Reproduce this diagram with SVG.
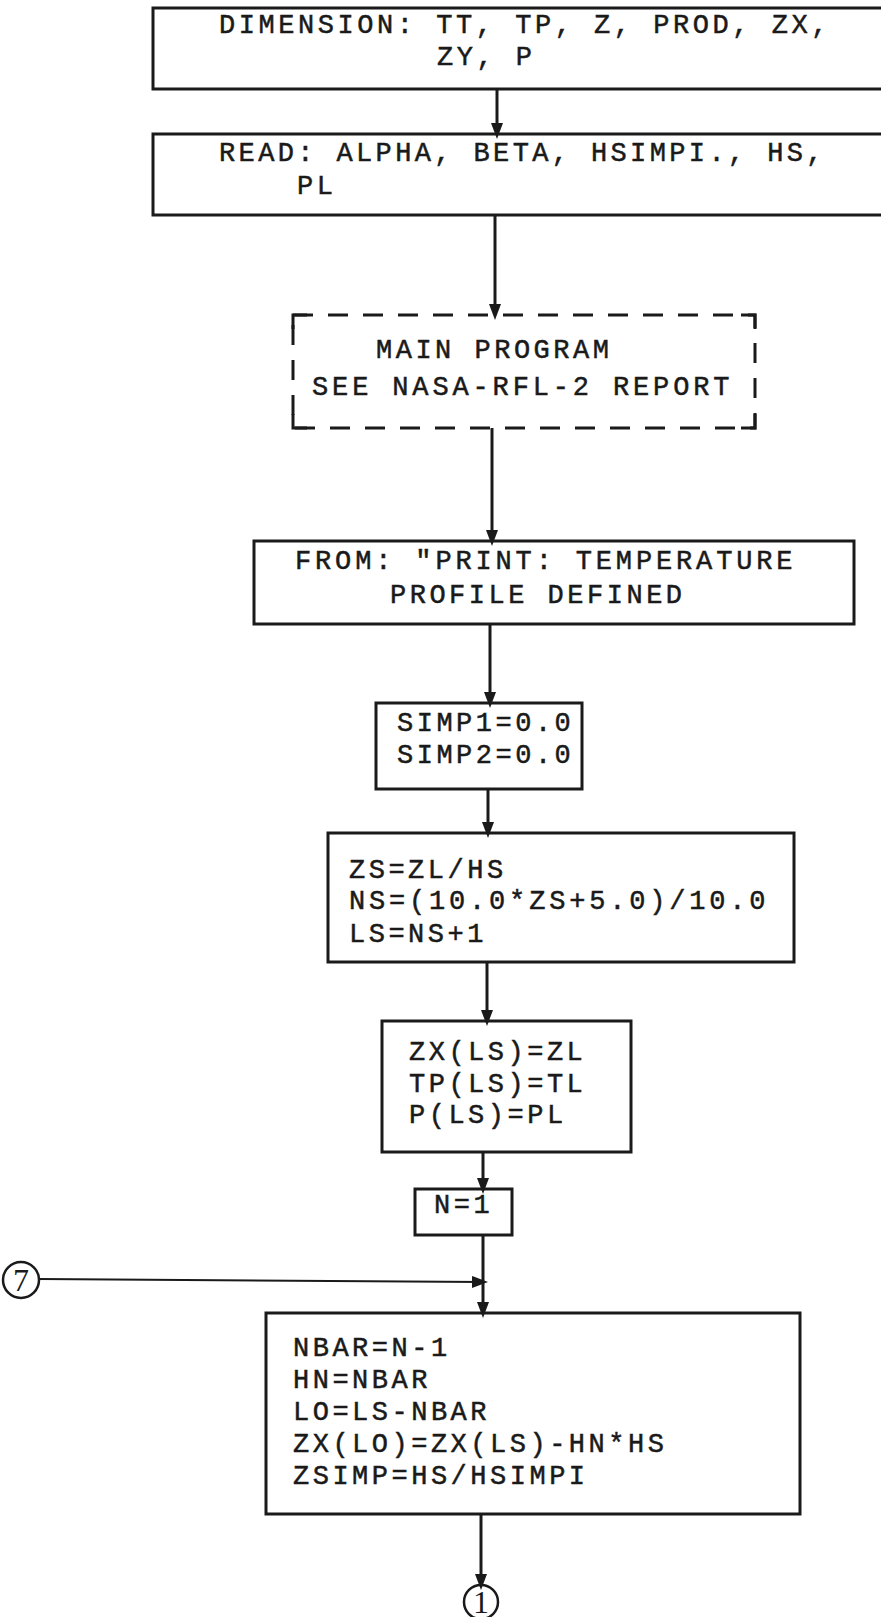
<svg xmlns="http://www.w3.org/2000/svg" width="881" height="1617" viewBox="0 0 881 1617">
<style>
.bg{fill:#fff}
.box{fill:none;stroke:#1a1a1a;stroke-width:3}
.dash{fill:none;stroke:#1a1a1a;stroke-width:3;stroke-dasharray:20 15}
.t{font-family:"Liberation Mono","DejaVu Sans Mono",monospace;font-size:27px;fill:#1a1a1a;stroke:#1a1a1a;stroke-width:0.5;letter-spacing:3.5px}
.c{font-family:"Liberation Serif",serif;font-size:32px;fill:#1a1a1a;text-anchor:middle}
.ln{stroke:#1a1a1a;stroke-width:3;fill:none}
.thin{stroke:#1a1a1a;stroke-width:2;fill:none}
.circ{stroke:#1a1a1a;stroke-width:2.5;fill:none}
</style>
<defs>
<marker id="ahd" markerWidth="16" markerHeight="12" refX="10" refY="6" orient="auto" markerUnits="userSpaceOnUse" viewBox="0 0 16 12">
<path d="M0,0 L16,6 L0,12 Z" fill="#1a1a1a"/>
</marker>
</defs>
<rect class="bg" x="0" y="0" width="881" height="1617"/>
<g id="connectors">
<line class="ln" x1="497" y1="89" x2="497" y2="133" marker-end="url(#ahd)"/>
<line class="ln" x1="495" y1="215" x2="495" y2="314" marker-end="url(#ahd)"/>
<line class="ln" x1="492" y1="428" x2="492" y2="540" marker-end="url(#ahd)"/>
<line class="ln" x1="490" y1="624" x2="490" y2="702" marker-end="url(#ahd)"/>
<line class="ln" x1="488" y1="789" x2="488" y2="832" marker-end="url(#ahd)"/>
<line class="ln" x1="487" y1="962" x2="487" y2="1020" marker-end="url(#ahd)"/>
<line class="ln" x1="483" y1="1152" x2="483" y2="1188" marker-end="url(#ahd)"/>
<line class="ln" x1="483" y1="1235" x2="483" y2="1312" marker-end="url(#ahd)"/>
<line class="thin" x1="39" y1="1279" x2="482" y2="1282" marker-end="url(#ahd)"/>
<line class="ln" x1="481" y1="1514" x2="481" y2="1584" marker-end="url(#ahd)"/>
</g>
<g id="n1">
<rect class="box" x="153" y="8" width="760" height="81"/>
<text class="t" x="219" y="33" textLength="612">DIMENSION: TT, TP, Z, PROD, ZX,</text>
<text class="t" x="437" y="65">ZY, P</text>
</g>
<g id="n2">
<rect class="box" x="153" y="134" width="760" height="81"/>
<text class="t" x="219" y="161" textLength="607">READ: ALPHA, BETA, HSIMPI., HS,</text>
<text class="t" x="297" y="194">PL</text>
</g>
<g id="n3">
<rect class="dash" x="293" y="315" width="462" height="113"/>
<path class="box" d="M293,329 V315 H307 M741,315 H755 V329 M293,414 V428 H307 M741,428 H755 V414"/>
<text class="t" x="376" y="358">MAIN PROGRAM</text>
<text class="t" x="312" y="395" textLength="421">SEE NASA-RFL-2 REPORT</text>
</g>
<g id="n4">
<rect class="box" x="254" y="541" width="600" height="83"/>
<text class="t" x="295" y="569" textLength="501">FROM: "PRINT: TEMPERATURE</text>
<text class="t" x="390" y="603">PROFILE DEFINED</text>
</g>
<g id="n5">
<rect class="box" x="376" y="703" width="206" height="86"/>
<text class="t" x="397" y="731">SIMP1=0.0</text>
<text class="t" x="397" y="763">SIMP2=0.0</text>
</g>
<g id="n6">
<rect class="box" x="328" y="833" width="466" height="129"/>
<text class="t" x="349" y="878">ZS=ZL/HS</text>
<text class="t" x="349" y="909" textLength="420">NS=(10.0*ZS+5.0)/10.0</text>
<text class="t" x="349" y="942">LS=NS+1</text>
</g>
<g id="n7">
<rect class="box" x="382" y="1021" width="249" height="131"/>
<text class="t" x="409" y="1060">ZX(LS)=ZL</text>
<text class="t" x="409" y="1092">TP(LS)=TL</text>
<text class="t" x="409" y="1123">P(LS)=PL</text>
</g>
<g id="n8">
<rect class="box" x="415" y="1189" width="97" height="46"/>
<text class="t" x="434" y="1213">N=1</text>
</g>
<g id="c7">
<circle class="circ" cx="21" cy="1280" r="18"/>
<text class="c" x="21" y="1291">7</text>
</g>
<g id="n9">
<rect class="box" x="266" y="1313" width="534" height="201"/>
<text class="t" x="293" y="1356">NBAR=N-1</text>
<text class="t" x="293" y="1388">HN=NBAR</text>
<text class="t" x="293" y="1420">LO=LS-NBAR</text>
<text class="t" x="293" y="1452">ZX(LO)=ZX(LS)-HN*HS</text>
<text class="t" x="293" y="1484">ZSIMP=HS/HSIMPI</text>
</g>
<g id="c1">
<circle class="circ" cx="481" cy="1602" r="17"/>
<text class="c" x="481" y="1613">1</text>
</g>
</svg>
